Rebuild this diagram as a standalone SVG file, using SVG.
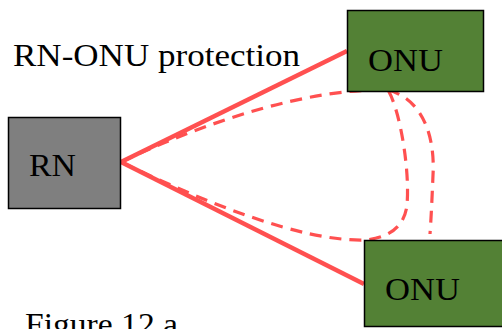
<svg xmlns="http://www.w3.org/2000/svg" width="502" height="329" viewBox="0 0 502 329">
<style>
.t{font-family:"Liberation Serif","DejaVu Serif",serif;font-size:31px;fill:#000}
.solid{fill:none;stroke:#FF5050;stroke-width:4.5}
.dash{fill:none;stroke:#FF5050;stroke-width:3.2;stroke-dasharray:12 8}
</style>
<rect width="502" height="329" fill="#fff"/>
<text class="t" x="13" y="66" textLength="287" lengthAdjust="spacingAndGlyphs">RN-ONU protection</text>
<g id="connectors">
<line class="solid" x1="121" y1="162" x2="347" y2="51"/>
<line class="solid" x1="121" y1="162" x2="364" y2="284"/>
<path class="dash" d="M121,162 C210,120 310,88 388,90 C400,110 410,170 407,205 C404,230 385,238 365,240 C300,242 200,200 121,162"/>
<path class="dash" d="M388,90 C425,100 435,140 433,175 C432,200 431,220 430,234"/>
</g>
<g id="rn">
<rect x="8.5" y="117.5" width="112" height="91" fill="#7F7F7F" stroke="#000" stroke-width="1.5"/>
<text class="t" x="29" y="176" textLength="47" lengthAdjust="spacingAndGlyphs">RN</text>
</g>
<g id="onu1">
<rect x="347.5" y="10.5" width="136" height="81" fill="#538135" stroke="#000" stroke-width="1.5"/>
<text class="t" x="368" y="71" textLength="75" lengthAdjust="spacingAndGlyphs">ONU</text>
</g>
<g id="onu2">
<rect x="364.5" y="240.5" width="140" height="86" fill="#538135" stroke="#000" stroke-width="1.5"/>
<text class="t" x="385" y="300" textLength="75" lengthAdjust="spacingAndGlyphs">ONU</text>
</g>
<text class="t" x="25" y="335" textLength="153" lengthAdjust="spacingAndGlyphs">Figure 12 a</text>
</svg>
